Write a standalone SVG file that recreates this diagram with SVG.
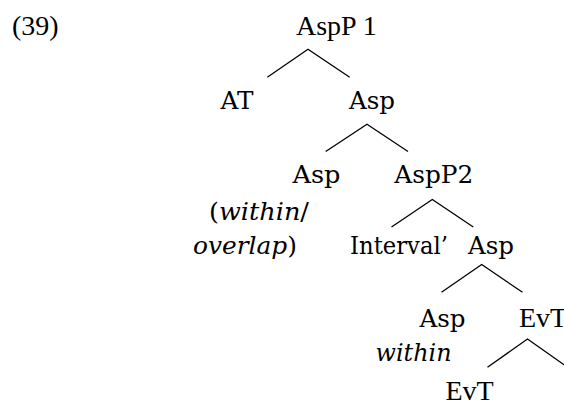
<svg xmlns="http://www.w3.org/2000/svg" width="564" height="403" viewBox="0 0 564 403">
<style>
.t{font-family:"Liberation Serif","Times New Roman",serif;font-size:28px;fill:#000}
.c{font-family:"DejaVu Serif","Liberation Serif",serif;font-size:25px;fill:#000}
.i{font-style:italic}
.e{stroke:#000;stroke-width:1.3;fill:none}
</style>
<rect width="564" height="403" fill="#fff"/>
<g id="label-39"><text class="t" x="12" y="34.5">(39)</text></g>
<g id="n-aspp1"><text class="t" x="296" y="34.5">AspP 1</text></g>
<g id="n-at"><text class="c" x="220.5" y="109" textLength="33" lengthAdjust="spacingAndGlyphs">AT</text></g>
<g id="n-asp1"><text class="c" x="349" y="109" textLength="46" lengthAdjust="spacingAndGlyphs">Asp</text></g>
<g id="n-asp2"><text class="c" x="292.5" y="182.5" textLength="48" lengthAdjust="spacingAndGlyphs">Asp</text>
<text class="c" x="209" y="220" textLength="100" lengthAdjust="spacingAndGlyphs">(<tspan class="i">within</tspan>/</text>
<text class="c" x="193" y="254" textLength="104" lengthAdjust="spacingAndGlyphs"><tspan class="i">overlap</tspan>)</text></g>
<g id="n-aspp2"><text class="c" x="394.3" y="182.5" textLength="79" lengthAdjust="spacingAndGlyphs">AspP2</text></g>
<g id="n-interval"><text class="c" x="350" y="254" textLength="98" lengthAdjust="spacingAndGlyphs">Interval’</text></g>
<g id="n-asp3"><text class="c" x="468" y="254" textLength="46" lengthAdjust="spacingAndGlyphs">Asp</text></g>
<g id="n-asp4"><text class="c" x="419.5" y="327" textLength="46" lengthAdjust="spacingAndGlyphs">Asp</text>
<text class="c i" x="375.5" y="360.5" textLength="76" lengthAdjust="spacingAndGlyphs">within</text></g>
<g id="n-evt1"><text class="t" x="519" y="327">EvT</text></g>
<g id="n-evt2"><text class="t" x="445.5" y="399.5">EvT</text></g>
<g id="connectors" class="e">
<polyline points="267.3,77.3 308,49.3 349.7,77.3"/>
<polyline points="325.7,151.5 367,124.3 408,151.5"/>
<polyline points="391.5,227 432.3,199.5 473.3,227"/>
<polyline points="441.5,292.3 481.7,264.5 522.5,292.3"/>
<polyline points="487.5,367.2 527.5,339 567.5,367.2"/>
</g>
</svg>
